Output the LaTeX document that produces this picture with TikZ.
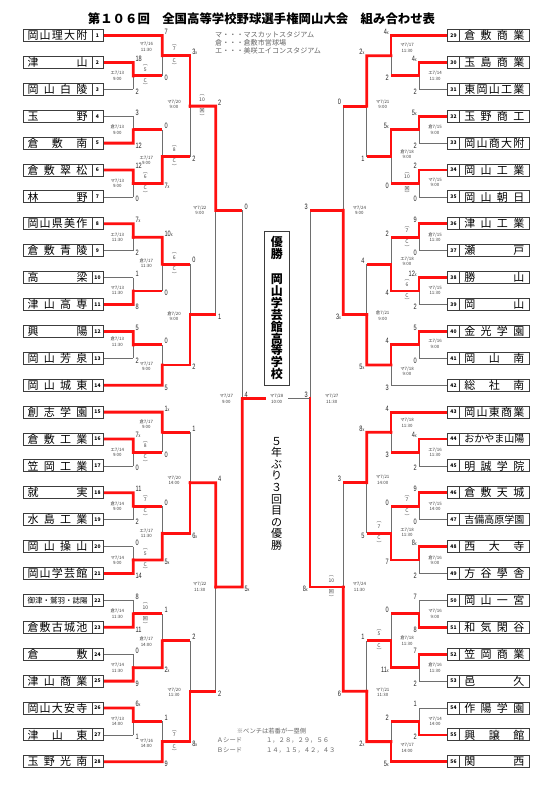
\documentclass[tikz,border=0pt]{standalone}
\usepackage{fontspec}
\setmainfont{Noto Sans CJK JP}
\newfontfamily\scorefont[FakeStretch=0.72]{Liberation Sans}
\usetikzlibrary{calc,backgrounds}

\definecolor{winRed}{HTML}{FF1010}
\definecolor{loseGray}{HTML}{6E6E6E}
\definecolor{boxLine}{HTML}{3C3C3C}

% school name spread over the whole box
\newcount\chcount
\def\countloop#1#2\relax{\advance\chcount by 1 \ifx\relax#2\relax\else\countloop#2\relax\fi}
\def\spreadloop#1#2\relax{#1\ifx\relax#2\relax\else\hfill\spreadloop#2\relax\fi}
\newcommand\spread[1]{%
  \chcount=0 \expandafter\countloop#1\relax
  \pgfmathsetmacro\fsz{min(11,60/\chcount)}%
  \fontsize{\fsz pt}{\fsz pt}\selectfont
  \makebox[60pt][s]{\expandafter\spreadloop#1\relax}}

% small x for a walk-off win
\newcommand\xx{{\fontsize{5}{5}\selectfont x}}

% one game: name, column, top entry, bottom entry, winner (t/b), loser line, scores
\newcommand\game[8]{%
  \coordinate (#1) at ($(#3 -| #2)!.5!(#4 -| #2)$);
  \draw[lose] (#3 -| #2) -- (#4 -| #2);
  \if t#5
    \draw[#6] (#4) -- (#4 -| #2);
    \draw[win] (#3) -- (#3 -| #2) -- (#1);
  \else
    \draw[#6] (#3) -- (#3 -| #2);
    \draw[win] (#4) -- (#4 -| #2) -- (#1);
  \fi
  \node[ts] at (#3 -| #2) {#7};
  \node[bs] at (#4 -| #2) {#8};}
\newcommand\when[3][0]{\node[when, yshift={-(#1)*1pt}] at (#2) {#3};}
\newcommand\inn[3]{\node[innU] at (#1) {︵\\#2}; \node[innD] at (#1) {#3\\︶};}

\tikzset{
  win/.style={draw=winRed, line width=2.8pt, line cap=rect},
  lwin/.style={draw=winRed, line width=2.8pt},
  lose/.style={draw=loseGray, line width=0.8pt},
  score/.style={font=\scorefont\fontsize{7.8}{8}\selectfont, inner sep=0.3pt, text=black!85},
  date/.style={font=\fontsize{4.4}{5.4}\selectfont, align=center, inner sep=0pt, text=black!75},
  inn/.style={font=\fontsize{5}{5.5}\selectfont, align=center, inner sep=0pt, text=black!75},
  leftside/.style={
    ts/.style={score, anchor=south west, xshift=1.8pt, yshift=0.6pt},
    bs/.style={score, anchor=north west, xshift=1.8pt, yshift=1pt},
    when/.style={date, xshift=-16pt},
    innU/.style={inn, anchor=south, xshift=12pt, yshift=4.5pt},
    innD/.style={inn, anchor=north, xshift=12pt, yshift=-2.5pt}},
  rightside/.style={
    ts/.style={score, anchor=south east, xshift=-1.8pt, yshift=0.6pt},
    bs/.style={score, anchor=north east, xshift=-1.8pt, yshift=1pt},
    when/.style={date, xshift=16pt},
    innU/.style={inn, anchor=south, xshift=-12pt, yshift=4.5pt},
    innD/.style={inn, anchor=north, xshift=-12pt, yshift=-2.5pt}},
  namebox/.style={draw=boxLine, line width=0.9pt, fill=white, minimum width=69pt,
    minimum height=12pt, inner sep=0pt},
  numbox/.style={namebox, minimum width=11pt, font=\bfseries\fontsize{5}{5}\selectfont},
  legend/.style={font=\fontsize{7.1}{8}\selectfont, text=black!60, inner sep=0pt}
}

\begin{document}
\begin{tikzpicture}[x=1pt, y=-1pt]
  \useasboundingbox (0,0) rectangle (552,795);
  \begin{scope}[on background layer]
    \fill[white] (0,0) rectangle (552,795);
  \end{scope}

  % title and venues
  \node[font=\bfseries\fontsize{12.4}{12.4}\selectfont] (title) at (261.5,19)
    {第１０６回　全国高等学校野球選手権岡山大会　組み合わせ表};
  \node[legend, anchor=north west, align=left] (venues) at (215,31.8)
    {マ・・・マスカットスタジアム\\倉・・・倉敷市営球場\\エ・・・美咲エイコンスタジアム};

  % teams
  \foreach \nm [count=\i] in {岡山理大附,津山,岡山白陵,玉野,倉敷南,倉敷翠松,林野,%
    岡山県美作,倉敷青陵,高梁,津山高専,興陽,岡山芳泉,岡山城東,%
    創志学園,倉敷工業,笠岡工業,就実,水島工業,岡山操山,岡山学芸館,%
    御津・鷲羽・誌陽,倉敷古城池,倉敷,津山商業,岡山大安寺,津山東,玉野光南}{
    \pgfmathsetmacro\yy{35.5+(\i-1)*26.9}
    \node[namebox] (s\i) at (57.5,\yy) {\spread{\nm}};
    \node[numbox] (n\i) at (97.5,\yy) {\i};
  }
  \foreach \nm [count=\i from 29] in {倉敷商業,玉島商業,東岡山工業,玉野商工,岡山商大附,岡山工業,岡山朝日,%
    津山工業,瀬戸,勝山,岡山,金光学園,岡山南,総社南,%
    岡山東商業,おかやま山陽,明誠学院,倉敷天城,吉備高原学園,西大寺,方谷學舎,%
    岡山一宮,和気閑谷,笠岡商業,邑久,作陽学園,興譲館,関西}{
    \pgfmathsetmacro\yy{35.5+(\i-29)*26.9}
    \node[numbox, minimum width=11.6pt] (n\i) at (453.5,\yy) {\i};
    \node[namebox, minimum width=70pt] (s\i) at (494.3,\yy) {\spread{\nm}};
  }

  % rounds
  \coordinate (cL1) at (133.3,0); \coordinate (cL2) at (162.3,0);
  \coordinate (cL3) at (190,0);   \coordinate (cL4) at (215.7,0);
  \coordinate (cL5) at (242.3,0);
  \coordinate (cR1) at (419,0);   \coordinate (cR2) at (391,0);
  \coordinate (cR3) at (366.7,0); \coordinate (cR4) at (343.3,0);
  \coordinate (cR5) at (310,0);

  % left half
  \begin{scope}[on background layer, leftside]
    \game{a1}{cL1}{n2.east}{n3.east}{t}{lose}{18}{2}
    \game{a2}{cL1}{n4.east}{n5.east}{b}{lose}{3}{12}
    \game{a3}{cL1}{n6.east}{n7.east}{t}{lose}{12}{0}
    \game{a4}{cL2}{n1.east}{a1}{t}{lwin}{7}{0}
    \game{a5}{cL2}{a2}{a3}{b}{lwin}{0}{7\xx}
    \game{a6}{cL3}{a4}{a5}{t}{lwin}{3\xx}{2}
    \game{b1}{cL1}{n8.east}{n9.east}{t}{lose}{7\xx}{2}
    \game{b2}{cL1}{n10.east}{n11.east}{b}{lose}{1}{8}
    \game{b3}{cL1}{n12.east}{n13.east}{t}{lose}{5}{2}
    \game{b4}{cL2}{b1}{b2}{t}{lwin}{10\xx}{0}
    \game{b5}{cL2}{b3}{n14.east}{b}{lwin}{0}{5}
    \game{b6}{cL3}{b4}{b5}{b}{lwin}{0}{2}
    \game{ab}{cL4}{a6}{b6}{t}{lwin}{2}{1}
    \game{c1}{cL1}{n16.east}{n17.east}{t}{lose}{7\xx}{0}
    \game{c2}{cL2}{n15.east}{c1}{t}{lwin}{1\xx}{0}
    \game{c3}{cL1}{n18.east}{n19.east}{t}{lose}{11}{2}
    \game{c4}{cL1}{n20.east}{n21.east}{b}{lose}{0}{14}
    \game{c5}{cL2}{c3}{c4}{b}{lwin}{0}{5\xx}
    \game{c6}{cL3}{c2}{c5}{b}{lwin}{1}{6\xx}
    \game{d1}{cL1}{n22.east}{n23.east}{b}{lose}{8}{11}
    \game{d2}{cL1}{n24.east}{n25.east}{b}{lose}{0}{9}
    \game{d3}{cL2}{d1}{d2}{b}{lwin}{1}{2\xx}
    \game{d4}{cL1}{n26.east}{n27.east}{t}{lose}{6\xx}{1}
    \game{d5}{cL2}{d4}{n28.east}{b}{lwin}{1}{9}
    \game{d6}{cL3}{d3}{d5}{b}{lwin}{2}{8\xx}
    \game{cd}{cL4}{c6}{d6}{t}{lwin}{4}{2}
    \game{sL}{cL5}{ab}{cd}{b}{lwin}{0}{5\xx}
    \node[ts] at (sL) {4};
    % dates
    \when{a1}{エ7/13\\9:00} \when{a2}{倉7/13\\9:00} \when{a3}{マ7/13\\9:00}
    \when[-9]{a4}{マ7/16\\11:30} \when[4]{a5}{エ7/17\\9:00}
    \when[-2]{a6}{マ7/20\\9:00} \when{ab}{マ7/22\\9:00}
    \when{b1}{エ7/13\\11:30} \when[-1]{b2}{マ7/13\\11:30} \when[-3]{b3}{倉7/13\\11:30}
    \when[-1]{b4}{倉7/17\\11:30} \when[1.5]{b5}{マ7/17\\9:00} \when[1.5]{b6}{倉7/20\\9:00}
    \when{c1}{エ7/14\\9:00} \when[-8]{c2}{倉7/17\\9:00} \when{c3}{倉7/14\\9:00}
    \when{c4}{マ7/14\\9:00} \when{c5}{エ7/17\\11:30} \when[-2.5]{c6}{マ7/20\\14:00}
    \when{d1}{倉7/14\\11:30} \when{d2}{マ7/14\\11:30} \when[1]{d3}{倉7/17\\14:00}
    \when{d4}{マ7/13\\14:00} \when[1.5]{d5}{マ7/16\\14:00} \when[1]{d6}{マ7/20\\11:30}
    \when{cd}{マ7/22\\11:30} \when{sL}{マ7/27\\9:00}
    % innings
    \inn{a1}{5}{C} \inn{a3}{6}{C} \inn{a4}{7}{C} \inn{a5}{8}{C} \inn{a6}{10}{回}
    \inn{b4}{6}{C} \inn{c1}{8}{C} \inn{c3}{7}{C} \inn{c4}{5}{C}
    \inn{d1}{10}{回} \inn{d5}{7}{C}
  \end{scope}

  % right half
  \begin{scope}[on background layer, rightside]
    \game{A1}{cR1}{n30.west}{n31.west}{t}{lose}{4\xx}{2}
    \game{A2}{cR2}{n29.west}{A1}{t}{lwin}{4\xx}{2}
    \game{A3}{cR1}{n32.west}{n33.west}{t}{lose}{5\xx}{2}
    \game{A4}{cR1}{n34.west}{n35.west}{t}{lose}{2}{0}
    \game{A5}{cR2}{A3}{A4}{t}{lwin}{5\xx}{0}
    \game{A6}{cR3}{A2}{A5}{t}{lwin}{2\xx}{1}
    \game{B1}{cR1}{n36.west}{n37.west}{t}{lose}{9}{0}
    \game{B2}{cR1}{n38.west}{n39.west}{t}{lose}{12\xx}{2}
    \game{B3}{cR2}{B1}{B2}{b}{lwin}{2}{4}
    \game{B4}{cR1}{n40.west}{n41.west}{t}{lose}{5}{0}
    \game{B5}{cR2}{B4}{n42.west}{t}{lose}{4}{3}
    \game{B6}{cR3}{B3}{B5}{b}{lwin}{4}{5\xx}
    \game{AB}{cR4}{A6}{B6}{b}{lwin}{0}{3\xx}
    \game{C1}{cR1}{n44.west}{n45.west}{t}{lose}{4\xx}{2}
    \game{C2}{cR2}{n43.west}{C1}{t}{lwin}{4}{3}
    \game{C3}{cR1}{n46.west}{n47.west}{t}{lose}{9}{0}
    \game{C4}{cR1}{n48.west}{n49.west}{t}{lose}{8\xx}{2}
    \game{C5}{cR2}{C3}{C4}{b}{lwin}{0}{7}
    \game{C6}{cR3}{C2}{C5}{t}{lwin}{8\xx}{5}
    \game{D1}{cR1}{n50.west}{n51.west}{b}{lose}{7}{8}
    \game{D2}{cR1}{n52.west}{n53.west}{t}{lose}{7}{2}
    \game{D3}{cR2}{D1}{D2}{b}{lwin}{0}{11\xx}
    \game{D4}{cR1}{n54.west}{n55.west}{b}{lose}{1}{2}
    \game{D5}{cR2}{D4}{n56.west}{b}{lwin}{2}{5\xx}
    \game{D6}{cR3}{D3}{D5}{b}{lwin}{1}{2\xx}
    \game{CD}{cR4}{C6}{D6}{b}{lwin}{3}{6}
    \game{sR}{cR5}{AB}{CD}{b}{lwin}{3}{8\xx}
    \node[ts] at (sR) {3};
    % dates
    \when{A1}{エ7/14\\11:30} \when[-8]{A2}{マ7/17\\11:30} \when{A3}{倉7/15\\9:00}
    \when[-1]{A4}{マ7/15\\9:00} \when[-2.5]{A5}{倉7/18\\9:00}
    \when[-2]{A6}{マ7/21\\9:00} \when{AB}{マ7/24\\9:00}
    \when{B1}{倉7/15\\11:30} \when[-1]{B2}{マ7/15\\11:30} \when[-3]{B3}{エ7/18\\9:00}
    \when[-1]{B4}{エ7/16\\9:00} \when[6]{B5}{マ7/18\\9:00} \when[1]{B6}{倉7/21\\9:00}
    \when{C1}{エ7/16\\11:30} \when[-9.5]{C2}{マ7/18\\11:30} \when{C3}{マ7/15\\14:00}
    \when{C4}{倉7/16\\9:00} \when[-1]{C5}{エ7/18\\11:30} \when[-3]{C6}{マ7/21\\14:00}
    \when{D1}{マ7/16\\9:00} \when{D2}{倉7/16\\11:30} \when{D3}{倉7/18\\11:30}
    \when{D4}{マ7/14\\14:00} \when[6]{D5}{マ7/17\\14:00} \when[1]{D6}{マ7/21\\11:30}
    \when{CD}{マ7/24\\11:30}
    \node[date] at ($(sR)+(21.7,0)$) {マ7/27\\11:30};
    % innings
    \inn{A4}{10}{回} \inn{B1}{7}{C} \inn{B2}{6}{C} \inn{C3}{7}{C} \inn{C5}{7}{C}
    \inn{D3}{5}{C} \inn{CD}{10}{回}
  \end{scope}

  % final
  \coordinate (fL) at ($(sL)+(22.7,0)$);
  \coordinate (fR) at ($(sR)+(-21.7,0)$);
  \begin{scope}[on background layer]
    \draw[win] (sL) -- (fL);
    \draw[lose] (sR) -- (fR);
  \end{scope}
  \node[date] (finalDate) at ($(fL)!.5!(fR)$) {マ7/28\\10:00};

  % champion
  \node[draw=boxLine, line width=0.9pt, minimum width=25pt, minimum height=154pt,
    inner sep=0pt, align=center, font=\bfseries\fontsize{12}{11.9}\selectfont]
    (champ) at (276.8,308) {優\\勝\\[13.5pt]岡\\山\\学\\芸\\館\\高\\等\\学\\校};
  \node[align=center, font=\fontsize{11}{11.56}\selectfont] (rare) at (276.7,493.7)
    {５\\年\\ぶ\\り\\３\\回\\目\\の\\優\\勝};

  % notes
  \node[legend, font=\fontsize{6.3}{7}\selectfont, anchor=west] (bench) at (236.7,731)
    {※ベンチは若番が一塁側};
  \node[legend, font=\fontsize{6.3}{7}\selectfont, anchor=west] (seedA) at (216.7,740.8)
    {Ａシード\hspace{24pt}１，２８，２９，５６};
  \node[legend, font=\fontsize{6.3}{7}\selectfont, anchor=west] (seedB) at (216.7,750.9)
    {Ｂシード\hspace{24pt}１４，１５，４２，４３};
\end{tikzpicture}
\end{document}
